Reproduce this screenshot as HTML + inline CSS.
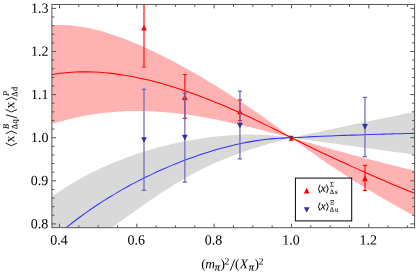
<!DOCTYPE html>
<html><head><meta charset="utf-8"><title>chart</title>
<style>
html,body{margin:0;padding:0;background:#fff;}
body{width:416px;height:277px;overflow:hidden;font-family:"Liberation Serif",serif;}
svg{display:block;will-change:transform;}
</style></head><body>
<svg width="416" height="277" viewBox="0 0 416 277">
<defs><clipPath id="c"><rect x="51.90" y="4.45" width="362.70" height="223.25"/></clipPath></defs>
<rect width="416" height="277" fill="#fff"/>
<g clip-path="url(#c)">
<path d="M45.00 201.48C46.00 200.76 49.01 198.55 51.01 197.13C53.01 195.71 55.02 194.33 57.02 192.99C59.02 191.64 61.03 190.33 63.03 189.05C65.03 187.76 67.04 186.52 69.04 185.30C71.04 184.08 73.05 182.89 75.05 181.73C77.05 180.57 79.06 179.44 81.06 178.34C83.06 177.24 85.07 176.16 87.07 175.11C89.07 174.07 91.07 173.05 93.08 172.05C95.08 171.05 97.08 170.08 99.09 169.14C101.09 168.19 103.09 167.27 105.10 166.37C107.10 165.48 109.10 164.60 111.11 163.75C113.11 162.90 115.11 162.07 117.12 161.26C119.12 160.45 121.12 159.67 123.13 158.90C125.13 158.14 127.13 157.39 129.14 156.67C131.14 155.94 133.14 155.24 135.15 154.55C137.15 153.87 139.15 153.20 141.16 152.56C143.16 151.91 145.16 151.28 147.17 150.67C149.17 150.06 151.17 149.47 153.18 148.90C155.18 148.33 157.18 147.77 159.19 147.23C161.19 146.69 163.19 146.17 165.20 145.67C167.20 145.17 169.20 144.68 171.20 144.21C173.21 143.75 175.21 143.29 177.21 142.86C179.22 142.42 181.22 142.01 183.22 141.60C185.23 141.20 187.23 140.82 189.23 140.45C191.24 140.08 193.24 139.73 195.24 139.40C197.25 139.06 199.25 138.74 201.25 138.44C203.26 138.14 205.26 137.86 207.26 137.59C209.27 137.32 211.27 137.08 213.27 136.84C215.28 136.61 217.28 136.40 219.28 136.20C221.29 136.00 223.29 135.82 225.29 135.66C227.30 135.50 229.30 135.36 231.30 135.23C233.31 135.11 235.31 135.00 237.31 134.91C239.32 134.83 241.32 134.76 243.32 134.71C245.33 134.66 247.33 134.63 249.33 134.62C251.33 134.62 253.34 134.63 255.34 134.66C257.34 134.70 259.35 134.75 261.35 134.83C263.35 134.90 265.36 135.00 267.36 135.12C269.36 135.25 271.37 135.39 273.37 135.56C275.37 135.73 277.38 135.92 279.38 136.14C281.38 136.36 283.39 136.60 285.39 136.87C287.39 137.13 290.40 137.60 291.40 137.75L291.40 137.75C290.38 138.03 287.31 138.89 285.26 139.45C283.22 140.02 281.17 140.58 279.12 141.14C277.08 141.71 275.03 142.27 272.99 142.84C270.94 143.41 268.90 143.99 266.85 144.58C264.80 145.16 262.76 145.75 260.71 146.36C258.67 146.97 256.62 147.59 254.57 148.22C252.53 148.86 250.48 149.50 248.44 150.17C246.39 150.84 244.35 151.52 242.30 152.23C240.25 152.94 238.21 153.66 236.16 154.41C234.12 155.16 232.07 155.92 230.02 156.72C227.98 157.51 225.93 158.33 223.89 159.17C221.84 160.01 219.80 160.87 217.75 161.77C215.70 162.66 213.66 163.58 211.61 164.52C209.57 165.46 207.52 166.43 205.47 167.43C203.43 168.43 201.38 169.45 199.34 170.50C197.29 171.55 195.25 172.63 193.20 173.73C191.15 174.83 189.11 175.96 187.06 177.12C185.02 178.27 182.97 179.45 180.92 180.65C178.88 181.86 176.83 183.09 174.79 184.34C172.74 185.59 170.70 186.86 168.65 188.16C166.60 189.45 164.56 190.77 162.51 192.11C160.47 193.44 158.42 194.80 156.38 196.17C154.33 197.54 152.28 198.93 150.24 200.34C148.19 201.74 146.15 203.16 144.10 204.58C142.05 206.01 140.01 207.45 137.96 208.90C135.92 210.35 133.87 211.80 131.82 213.26C129.78 214.72 127.73 216.18 125.69 217.65C123.64 219.11 121.60 220.57 119.55 222.03C117.50 223.49 115.46 224.95 113.41 226.39C111.37 227.83 109.32 229.27 107.28 230.70C105.23 232.12 103.18 233.53 101.14 234.92C99.09 236.30 96.02 238.33 95.00 239.02L95.00 260.00L40.00 260.00Z" fill="#d9d9d9"/>
<path d="M291.40 137.75C292.42 137.53 295.48 136.86 297.52 136.42C299.57 135.97 301.61 135.53 303.65 135.09C305.69 134.65 307.73 134.21 309.77 133.77C311.81 133.33 313.85 132.89 315.90 132.45C317.94 132.01 319.98 131.57 322.02 131.13C324.06 130.69 326.10 130.26 328.14 129.82C330.18 129.38 332.23 128.95 334.27 128.51C336.31 128.08 338.35 127.64 340.39 127.21C342.43 126.78 344.47 126.34 346.51 125.91C348.56 125.48 350.60 125.05 352.64 124.61C354.68 124.18 356.72 123.75 358.76 123.32C360.80 122.89 362.84 122.47 364.89 122.04C366.93 121.61 368.97 121.18 371.01 120.76C373.05 120.33 375.09 119.90 377.13 119.48C379.17 119.05 381.22 118.63 383.26 118.20C385.30 117.78 387.34 117.36 389.38 116.93C391.42 116.51 393.46 116.09 395.50 115.67C397.55 115.25 399.59 114.82 401.63 114.40C403.67 113.98 405.71 113.57 407.75 113.15C409.79 112.73 411.83 112.31 413.88 111.89C415.92 111.48 418.98 110.85 420.00 110.64L420.00 155.42C418.98 155.28 415.92 154.85 413.88 154.56C411.83 154.27 409.79 153.99 407.75 153.70C405.71 153.42 403.67 153.13 401.63 152.85C399.59 152.56 397.55 152.28 395.50 151.99C393.46 151.71 391.42 151.43 389.38 151.14C387.34 150.86 385.30 150.57 383.26 150.29C381.22 150.01 379.17 149.73 377.13 149.44C375.09 149.16 373.05 148.88 371.01 148.60C368.97 148.31 366.93 148.03 364.89 147.75C362.84 147.47 360.80 147.19 358.76 146.91C356.72 146.63 354.68 146.35 352.64 146.07C350.60 145.79 348.56 145.51 346.51 145.23C344.47 144.95 342.43 144.67 340.39 144.39C338.35 144.11 336.31 143.83 334.27 143.55C332.23 143.28 330.18 143.00 328.14 142.72C326.10 142.44 324.06 142.16 322.02 141.89C319.98 141.61 317.94 141.33 315.90 141.06C313.85 140.78 311.81 140.50 309.77 140.23C307.73 139.95 305.69 139.67 303.65 139.40C301.61 139.12 299.57 138.85 297.52 138.57C295.48 138.30 292.42 137.89 291.40 137.75Z" fill="#d9d9d9"/>
<path d="M45.00 25.83C46.00 25.74 49.01 25.40 51.01 25.26C53.01 25.13 55.02 25.04 57.02 25.01C59.02 24.97 61.03 24.99 63.03 25.05C65.03 25.11 67.04 25.22 69.04 25.37C71.04 25.52 73.05 25.71 75.05 25.95C77.05 26.19 79.06 26.47 81.06 26.78C83.06 27.10 85.07 27.45 87.07 27.85C89.07 28.24 91.07 28.67 93.08 29.13C95.08 29.59 97.08 30.09 99.09 30.62C101.09 31.15 103.09 31.71 105.10 32.30C107.10 32.89 109.10 33.51 111.11 34.16C113.11 34.81 115.11 35.49 117.12 36.19C119.12 36.89 121.12 37.62 123.13 38.37C125.13 39.13 127.13 39.90 129.14 40.70C131.14 41.50 133.14 42.33 135.15 43.17C137.15 44.02 139.15 44.88 141.16 45.77C143.16 46.65 145.16 47.56 147.17 48.48C149.17 49.40 151.17 50.34 153.18 51.30C155.18 52.26 157.18 53.24 159.19 54.23C161.19 55.22 163.19 56.23 165.20 57.25C167.20 58.27 169.20 59.31 171.20 60.36C173.21 61.42 175.21 62.48 177.21 63.56C179.22 64.64 181.22 65.73 183.22 66.84C185.23 67.94 187.23 69.06 189.23 70.19C191.24 71.32 193.24 72.46 195.24 73.62C197.25 74.77 199.25 75.93 201.25 77.11C203.26 78.29 205.26 79.47 207.26 80.67C209.27 81.87 211.27 83.08 213.27 84.30C215.28 85.52 217.28 86.75 219.28 87.99C221.29 89.23 223.29 90.48 225.29 91.74C227.30 93.00 229.30 94.28 231.30 95.56C233.31 96.84 235.31 98.14 237.31 99.44C239.32 100.75 241.32 102.06 243.32 103.39C245.33 104.72 247.33 106.06 249.33 107.41C251.33 108.76 253.34 110.12 255.34 111.50C257.34 112.87 259.35 114.26 261.35 115.66C263.35 117.06 265.36 118.47 267.36 119.90C269.36 121.33 271.37 122.77 273.37 124.22C275.37 125.68 277.38 127.15 279.38 128.64C281.38 130.12 283.39 131.62 285.39 133.14C287.39 134.66 290.40 136.98 291.40 137.75L291.40 137.75C290.40 137.50 287.39 136.74 285.39 136.23C283.39 135.72 281.38 135.21 279.38 134.70C277.38 134.19 275.37 133.67 273.37 133.16C271.37 132.65 269.36 132.14 267.36 131.63C265.36 131.12 263.35 130.61 261.35 130.11C259.35 129.60 257.34 129.10 255.34 128.60C253.34 128.10 251.33 127.61 249.33 127.12C247.33 126.63 245.33 126.14 243.32 125.67C241.32 125.19 239.32 124.72 237.31 124.25C235.31 123.79 233.31 123.33 231.30 122.88C229.30 122.43 227.30 121.99 225.29 121.56C223.29 121.13 221.29 120.70 219.28 120.29C217.28 119.88 215.28 119.47 213.27 119.08C211.27 118.69 209.27 118.31 207.26 117.94C205.26 117.57 203.26 117.21 201.25 116.87C199.25 116.52 197.25 116.19 195.24 115.87C193.24 115.55 191.24 115.25 189.23 114.96C187.23 114.66 185.23 114.39 183.22 114.12C181.22 113.86 179.22 113.61 177.21 113.38C175.21 113.15 173.21 112.93 171.20 112.73C169.20 112.53 167.20 112.35 165.20 112.18C163.19 112.02 161.19 111.87 159.19 111.73C157.18 111.60 155.18 111.49 153.18 111.39C151.17 111.29 149.17 111.21 147.17 111.15C145.16 111.09 143.16 111.05 141.16 111.03C139.15 111.00 137.15 111.00 135.15 111.02C133.14 111.03 131.14 111.07 129.14 111.12C127.13 111.18 125.13 111.25 123.13 111.35C121.12 111.44 119.12 111.56 117.12 111.70C115.11 111.84 113.11 111.99 111.11 112.17C109.10 112.35 107.10 112.55 105.10 112.77C103.09 112.99 101.09 113.24 99.09 113.50C97.08 113.77 95.08 114.05 93.08 114.36C91.07 114.67 89.07 115.00 87.07 115.35C85.07 115.70 83.06 116.08 81.06 116.48C79.06 116.87 77.05 117.29 75.05 117.73C73.05 118.17 71.04 118.64 69.04 119.13C67.04 119.61 65.03 120.12 63.03 120.65C61.03 121.19 59.02 121.74 57.02 122.32C55.02 122.90 53.01 123.50 51.01 124.12C49.01 124.74 46.00 125.74 45.00 126.06Z" fill="#ffb2b2"/>
<path d="M291.40 137.75C292.42 138.05 295.48 138.94 297.52 139.53C299.57 140.12 301.61 140.71 303.65 141.29C305.69 141.88 307.73 142.46 309.77 143.04C311.81 143.62 313.85 144.20 315.90 144.78C317.94 145.35 319.98 145.93 322.02 146.50C324.06 147.07 326.10 147.64 328.14 148.21C330.18 148.77 332.23 149.34 334.27 149.90C336.31 150.46 338.35 151.02 340.39 151.58C342.43 152.13 344.47 152.69 346.51 153.24C348.56 153.79 350.60 154.34 352.64 154.89C354.68 155.44 356.72 155.98 358.76 156.53C360.80 157.07 362.84 157.61 364.89 158.15C366.93 158.68 368.97 159.22 371.01 159.75C373.05 160.29 375.09 160.82 377.13 161.35C379.17 161.87 381.22 162.40 383.26 162.92C385.30 163.45 387.34 163.97 389.38 164.49C391.42 165.01 393.46 165.52 395.50 166.04C397.55 166.55 399.59 167.06 401.63 167.57C403.67 168.08 405.71 168.59 407.75 169.09C409.79 169.60 411.83 170.10 413.88 170.60C415.92 171.10 418.98 171.84 420.00 172.09L420.00 218.71C418.98 218.18 415.92 216.60 413.88 215.52C411.83 214.45 409.79 213.37 407.75 212.27C405.71 211.17 403.67 210.06 401.63 208.95C399.59 207.83 397.55 206.70 395.50 205.56C393.46 204.42 391.42 203.26 389.38 202.10C387.34 200.94 385.30 199.76 383.26 198.58C381.22 197.39 379.17 196.20 377.13 194.99C375.09 193.78 373.05 192.56 371.01 191.33C368.97 190.10 366.93 188.86 364.89 187.61C362.84 186.36 360.80 185.10 358.76 183.82C356.72 182.55 354.68 181.26 352.64 179.97C350.60 178.67 348.56 177.36 346.51 176.05C344.47 174.73 342.43 173.40 340.39 172.06C338.35 170.72 336.31 169.36 334.27 168.00C332.23 166.64 330.18 165.27 328.14 163.88C326.10 162.49 324.06 161.10 322.02 159.69C319.98 158.28 317.94 156.87 315.90 155.44C313.85 154.01 311.81 152.57 309.77 151.11C307.73 149.66 305.69 148.20 303.65 146.73C301.61 145.25 299.57 143.77 297.52 142.27C295.48 140.78 292.42 138.50 291.40 137.75Z" fill="#ffb2b2"/>
<path d="M45.00 245.74C46.00 244.85 49.01 242.12 51.01 240.35C53.01 238.59 55.02 236.86 57.02 235.16C59.02 233.46 61.03 231.80 63.03 230.16C65.03 228.53 67.04 226.93 69.04 225.35C71.04 223.78 73.05 222.23 75.05 220.72C77.05 219.20 79.06 217.71 81.06 216.25C83.06 214.79 85.07 213.35 87.07 211.94C89.07 210.53 91.07 209.15 93.08 207.79C95.08 206.44 97.08 205.10 99.09 203.79C101.09 202.48 103.09 201.20 105.10 199.93C107.10 198.67 109.10 197.43 111.11 196.21C113.11 194.99 115.11 193.80 117.12 192.62C119.12 191.45 121.12 190.29 123.13 189.16C125.13 188.02 127.13 186.91 129.14 185.82C131.14 184.72 133.14 183.65 135.15 182.60C137.15 181.54 139.15 180.51 141.16 179.49C143.16 178.48 145.16 177.48 147.17 176.50C149.17 175.52 151.17 174.56 153.18 173.62C155.18 172.67 157.18 171.75 159.19 170.84C161.19 169.93 163.19 169.04 165.20 168.17C167.20 167.30 169.20 166.44 171.20 165.61C173.21 164.77 175.21 163.95 177.21 163.14C179.22 162.34 181.22 161.55 183.22 160.79C185.23 160.02 187.23 159.26 189.23 158.53C191.24 157.79 193.24 157.08 195.24 156.38C197.25 155.68 199.25 154.99 201.25 154.33C203.26 153.66 205.26 153.01 207.26 152.38C209.27 151.75 211.27 151.14 213.27 150.54C215.28 149.95 217.28 149.37 219.28 148.81C221.29 148.25 223.29 147.71 225.29 147.19C227.30 146.67 229.30 146.17 231.30 145.69C233.31 145.20 235.31 144.74 237.31 144.30C239.32 143.85 241.32 143.43 243.32 143.03C245.33 142.62 247.33 142.24 249.33 141.88C251.33 141.52 253.34 141.18 255.34 140.86C257.34 140.54 259.35 140.25 261.35 139.98C263.35 139.71 265.36 139.46 267.36 139.23C269.36 139.01 271.37 138.80 273.37 138.63C275.37 138.45 277.38 138.30 279.38 138.18C281.38 138.05 283.39 137.95 285.39 137.88C287.39 137.81 289.38 137.82 291.40 137.75C293.42 137.68 295.48 137.55 297.52 137.44C299.57 137.34 301.61 137.25 303.65 137.15C305.69 137.05 307.73 136.96 309.77 136.86C311.81 136.77 313.85 136.68 315.90 136.58C317.94 136.49 319.98 136.40 322.02 136.32C324.06 136.23 326.10 136.14 328.14 136.06C330.18 135.97 332.23 135.89 334.27 135.81C336.31 135.72 338.35 135.64 340.39 135.56C342.43 135.49 344.47 135.41 346.51 135.33C348.56 135.26 350.60 135.18 352.64 135.11C354.68 135.04 356.72 134.97 358.76 134.90C360.80 134.83 362.84 134.76 364.89 134.69C366.93 134.62 368.97 134.56 371.01 134.49C373.05 134.43 375.09 134.37 377.13 134.31C379.17 134.25 381.22 134.19 383.26 134.13C385.30 134.07 387.34 134.02 389.38 133.96C391.42 133.91 393.46 133.85 395.50 133.80C397.55 133.75 399.59 133.70 401.63 133.65C403.67 133.60 405.71 133.56 407.75 133.51C409.79 133.47 411.83 133.42 413.88 133.38C415.92 133.34 418.98 133.28 420.00 133.26" fill="none" stroke="#3333ff" stroke-width="1.05"/>
<path d="M45.00 75.82C46.00 75.63 49.01 75.02 51.01 74.68C53.01 74.33 55.02 74.02 57.02 73.74C59.02 73.46 61.03 73.22 63.03 73.00C65.03 72.78 67.04 72.60 69.04 72.45C71.04 72.29 73.05 72.17 75.05 72.08C77.05 71.99 79.06 71.92 81.06 71.89C83.06 71.85 85.07 71.85 87.07 71.87C89.07 71.89 91.07 71.94 93.08 72.01C95.08 72.08 97.08 72.19 99.09 72.31C101.09 72.44 103.09 72.59 105.10 72.77C107.10 72.94 109.10 73.14 111.11 73.37C113.11 73.59 115.11 73.84 117.12 74.11C119.12 74.38 121.12 74.68 123.13 74.99C125.13 75.31 127.13 75.65 129.14 76.00C131.14 76.36 133.14 76.74 135.15 77.14C137.15 77.54 139.15 77.96 141.16 78.40C143.16 78.84 145.16 79.30 147.17 79.78C149.17 80.26 151.17 80.75 153.18 81.27C155.18 81.78 157.18 82.31 159.19 82.86C161.19 83.41 163.19 83.98 165.20 84.56C167.20 85.14 169.20 85.74 171.20 86.36C173.21 86.97 175.21 87.60 177.21 88.25C179.22 88.89 181.22 89.56 183.22 90.23C185.23 90.91 187.23 91.60 189.23 92.30C191.24 93.00 193.24 93.72 195.24 94.45C197.25 95.18 199.25 95.93 201.25 96.69C203.26 97.44 205.26 98.21 207.26 99.00C209.27 99.78 211.27 100.57 213.27 101.38C215.28 102.18 217.28 103.00 219.28 103.83C221.29 104.66 223.29 105.50 225.29 106.35C227.30 107.20 229.30 108.06 231.30 108.93C233.31 109.80 235.31 110.68 237.31 111.57C239.32 112.47 241.32 113.37 243.32 114.28C245.33 115.19 247.33 116.11 249.33 117.04C251.33 117.97 253.34 118.90 255.34 119.85C257.34 120.80 259.35 121.75 261.35 122.71C263.35 123.68 265.36 124.65 267.36 125.63C269.36 126.61 271.37 127.60 273.37 128.59C275.37 129.59 277.38 130.59 279.38 131.60C281.38 132.61 283.39 133.63 285.39 134.65C287.39 135.68 289.38 136.73 291.40 137.75C293.42 138.77 295.48 139.78 297.52 140.79C299.57 141.80 301.61 142.81 303.65 143.81C305.69 144.81 307.73 145.80 309.77 146.79C311.81 147.79 313.85 148.77 315.90 149.75C317.94 150.73 319.98 151.71 322.02 152.68C324.06 153.65 326.10 154.61 328.14 155.57C330.18 156.54 332.23 157.49 334.27 158.44C336.31 159.39 338.35 160.34 340.39 161.28C342.43 162.22 344.47 163.16 346.51 164.09C348.56 165.02 350.60 165.95 352.64 166.87C354.68 167.79 356.72 168.71 358.76 169.62C360.80 170.53 362.84 171.44 364.89 172.34C366.93 173.24 368.97 174.14 371.01 175.03C373.05 175.93 375.09 176.81 377.13 177.70C379.17 178.58 381.22 179.46 383.26 180.33C385.30 181.20 387.34 182.07 389.38 182.93C391.42 183.80 393.46 184.65 395.50 185.51C397.55 186.36 399.59 187.21 401.63 188.05C403.67 188.89 405.71 189.73 407.75 190.57C409.79 191.40 411.83 192.23 413.88 193.05C415.92 193.88 418.98 195.10 420.00 195.51" fill="none" stroke="#ff0000" stroke-width="1.05"/>
<path d="M144.00 -10.00V67.00M141.90 -10.00H146.10M141.90 67.00H146.10" fill="none" stroke="#ff1010" stroke-width="1.20"/>
<path d="M144.00 24.80L146.90 30.50L141.10 30.50Z" fill="#ff0000"/>
<path d="M184.85 74.50V118.30M182.75 74.50H186.95M182.75 118.30H186.95" fill="none" stroke="#ff1010" stroke-width="1.20"/>
<path d="M184.85 94.25L187.75 99.95L181.95 99.95Z" fill="#ff0000"/>
<path d="M239.95 99.80V120.50M237.85 99.80H242.05M237.85 120.50H242.05" fill="none" stroke="#ff1010" stroke-width="1.20"/>
<path d="M239.95 108.65L242.85 114.35L237.05 114.35Z" fill="#ff0000"/>
<path d="M364.95 165.30V190.40M362.85 165.30H367.05M362.85 190.40H367.05" fill="none" stroke="#ff1010" stroke-width="1.20"/>
<path d="M364.95 175.55L367.85 181.25L362.05 181.25Z" fill="#ff0000"/>
<path d="M144.00 89.40V190.30M141.90 89.40H146.10M141.90 190.30H146.10" fill="none" stroke="#6868b8" stroke-width="1.20"/>
<path d="M144.00 142.85L146.90 137.15L141.10 137.15Z" fill="#3232a0"/>
<path d="M184.85 93.10V182.20M182.75 93.10H186.95M182.75 182.20H186.95" fill="none" stroke="#6868b8" stroke-width="1.20"/>
<path d="M184.85 140.55L187.75 134.85L181.95 134.85Z" fill="#3232a0"/>
<path d="M239.95 91.10V158.90M237.85 91.10H242.05M237.85 158.90H242.05" fill="none" stroke="#6868b8" stroke-width="1.20"/>
<path d="M239.95 128.45L242.85 122.75L237.05 122.75Z" fill="#3232a0"/>
<path d="M364.95 97.35V156.60M362.85 97.35H367.05M362.85 156.60H367.05" fill="none" stroke="#6868b8" stroke-width="1.20"/>
<path d="M364.95 129.65L367.85 123.95L362.05 123.95Z" fill="#3232a0"/>
<path d="M291.20 136.10L293.70 140.70L288.70 140.70Z" fill="#ff0000"/>
<path d="M291.20 139.50L293.70 135.70L288.70 135.70Z" fill="#3232a0"/>
</g>
<g stroke="#555555" stroke-width="1" fill="none">
<rect x="51.90" y="4.45" width="362.70" height="223.25"/>
<path d="M59.50 227.70v-4.00M59.50 4.45v4.00M78.83 227.70v-2.40M78.83 4.45v2.40M98.16 227.70v-2.40M98.16 4.45v2.40M117.49 227.70v-2.40M117.49 4.45v2.40M136.82 227.70v-4.00M136.82 4.45v4.00M156.15 227.70v-2.40M156.15 4.45v2.40M175.48 227.70v-2.40M175.48 4.45v2.40M194.81 227.70v-2.40M194.81 4.45v2.40M214.14 227.70v-4.00M214.14 4.45v4.00M233.47 227.70v-2.40M233.47 4.45v2.40M252.80 227.70v-2.40M252.80 4.45v2.40M272.13 227.70v-2.40M272.13 4.45v2.40M291.46 227.70v-4.00M291.46 4.45v4.00M310.79 227.70v-2.40M310.79 4.45v2.40M330.12 227.70v-2.40M330.12 4.45v2.40M349.45 227.70v-2.40M349.45 4.45v2.40M368.78 227.70v-4.00M368.78 4.45v4.00M388.11 227.70v-2.40M388.11 4.45v2.40M407.44 227.70v-2.40M407.44 4.45v2.40M51.90 223.90h4.20M414.60 223.90h-4.20M51.90 215.28h2.50M414.60 215.28h-2.50M51.90 206.66h2.50M414.60 206.66h-2.50M51.90 198.04h2.50M414.60 198.04h-2.50M51.90 189.42h2.50M414.60 189.42h-2.50M51.90 180.80h4.20M414.60 180.80h-4.20M51.90 172.18h2.50M414.60 172.18h-2.50M51.90 163.56h2.50M414.60 163.56h-2.50M51.90 154.94h2.50M414.60 154.94h-2.50M51.90 146.32h2.50M414.60 146.32h-2.50M51.90 137.70h4.20M414.60 137.70h-4.20M51.90 129.08h2.50M414.60 129.08h-2.50M51.90 120.46h2.50M414.60 120.46h-2.50M51.90 111.84h2.50M414.60 111.84h-2.50M51.90 103.22h2.50M414.60 103.22h-2.50M51.90 94.60h4.20M414.60 94.60h-4.20M51.90 85.98h2.50M414.60 85.98h-2.50M51.90 77.36h2.50M414.60 77.36h-2.50M51.90 68.74h2.50M414.60 68.74h-2.50M51.90 60.12h2.50M414.60 60.12h-2.50M51.90 51.50h4.20M414.60 51.50h-4.20M51.90 42.88h2.50M414.60 42.88h-2.50M51.90 34.26h2.50M414.60 34.26h-2.50M51.90 25.64h2.50M414.60 25.64h-2.50M51.90 17.02h2.50M414.60 17.02h-2.50M51.90 8.40h4.20M414.60 8.40h-4.20"/>
</g>
<g transform="rotate(0.03 208 138)" font-family="'Liberation Serif', serif" font-size="14.0" fill="#000">
<text x="48.4" y="228.30" text-anchor="end">0.8</text>
<text x="48.4" y="185.20" text-anchor="end">0.9</text>
<text x="48.4" y="142.10" text-anchor="end">1.0</text>
<text x="48.4" y="99.00" text-anchor="end">1.1</text>
<text x="48.4" y="55.90" text-anchor="end">1.2</text>
<text x="48.4" y="12.80" text-anchor="end">1.3</text>
<text x="59.00" y="244.5" text-anchor="middle">0.4</text>
<text x="136.32" y="244.5" text-anchor="middle">0.6</text>
<text x="213.64" y="244.5" text-anchor="middle">0.8</text>
<text x="290.96" y="244.5" text-anchor="middle">1.0</text>
<text x="368.28" y="244.5" text-anchor="middle">1.2</text>
</g>
<rect x="295.4" y="178.1" width="56.3" height="42.8" fill="#fff" stroke="#000" stroke-width="1"/>
<path d="M306.70 187.75L309.60 193.45L303.80 193.45Z" fill="#ff0000"/>
<path d="M306.70 212.85L309.60 207.15L303.80 207.15Z" fill="#3232a0"/>
<g transform="rotate(0.03 208 138)" font-family="'Liberation Serif', serif" fill="#000"><path d="M320.11 184.67L318.50 188.87L320.11 193.06" fill="none" stroke="#000" stroke-width="0.95"/><text x="320.7" y="191.80" font-size="11.0" font-style="italic" stroke="#000" stroke-width="0.2">x</text><path d="M326.60 184.67L328.21 188.87L326.60 193.06" fill="none" stroke="#000" stroke-width="0.95"/><g stroke="#000" stroke-width="0.1"><text x="330.1" y="186.65" font-size="6.8">&#931;</text><text x="329.9" y="194.00" font-size="6.8">&#916;</text><text x="335.0" y="194.00" font-size="6.8">s</text></g></g>
<g transform="rotate(0.03 208 138)" font-family="'Liberation Serif', serif" fill="#000"><path d="M320.11 202.37L318.50 206.57L320.11 210.76" fill="none" stroke="#000" stroke-width="0.95"/><text x="320.7" y="209.50" font-size="11.0" font-style="italic" stroke="#000" stroke-width="0.2">x</text><path d="M326.60 202.37L328.21 206.57L326.60 210.76" fill="none" stroke="#000" stroke-width="0.95"/><g stroke="#000" stroke-width="0.1"><text x="330.1" y="204.35" font-size="6.8">&#926;</text><text x="329.9" y="211.70" font-size="6.8">&#916;</text><text x="335.0" y="211.70" font-size="6.8">u</text></g></g>
<g transform="rotate(0.03 208 138)" font-family="'Liberation Serif', serif" font-size="13.5" fill="#000">
<text x="201.30" y="268.30">(</text>
<text x="205.30" y="268.30" font-style="italic">m</text>
<g stroke="#000" stroke-width="0.2"><text x="214.90" y="270.40" font-size="10.5" font-style="italic">&#960;</text><text x="248.90" y="270.40" font-size="10.5" font-style="italic">&#960;</text></g>
<text x="220.60" y="268.30">)</text>
<text x="224.50" y="264.60" font-size="9.6">2</text>
<path d="M230.4 270.6L234.9 259.3" stroke="#000" stroke-width="0.9" fill="none"/>
<text x="235.10" y="268.30">(</text>
<text x="239.80" y="268.30" font-style="italic">X</text>
<text x="254.60" y="268.30">)</text>
<text x="258.80" y="264.60" font-size="9.6">2</text>
</g>
<g transform="translate(14.3,146.2) rotate(-90.03)" font-family="'Liberation Serif', serif" fill="#000">
<path d="M3.00 -8.5L0.50 -2.95L3.00 2.6" fill="none" stroke="#000" stroke-width="0.90"/><text x="4.00" y="0" font-size="13.5">x</text><path d="M12.60 -8.5L15.20 -2.95L12.60 2.6" fill="none" stroke="#000" stroke-width="0.90"/><g stroke="#000" stroke-width="0.12"><text x="17.20" y="-5.5" font-size="8.3" font-style="italic">B</text><text x="17.00" y="2.9" font-size="8.3">&#916;</text><text x="22.60" y="2.9" font-size="8.3">q</text></g>
<path d="M28.2 2.8L31.4 -8.3" stroke="#000" stroke-width="0.9" fill="none"/>
<path d="M36.70 -8.5L34.20 -2.95L36.70 2.6" fill="none" stroke="#000" stroke-width="0.90"/><text x="37.70" y="0" font-size="13.5">x</text><path d="M46.30 -8.5L48.90 -2.95L46.30 2.6" fill="none" stroke="#000" stroke-width="0.90"/><g stroke="#000" stroke-width="0.12"><text x="50.30" y="-5.5" font-size="8.3" font-style="italic">P</text><text x="49.50" y="2.9" font-size="8.3">&#916;</text><text x="55.10" y="2.9" font-size="8.3">d</text></g>
</g>
</svg>
</body></html>
